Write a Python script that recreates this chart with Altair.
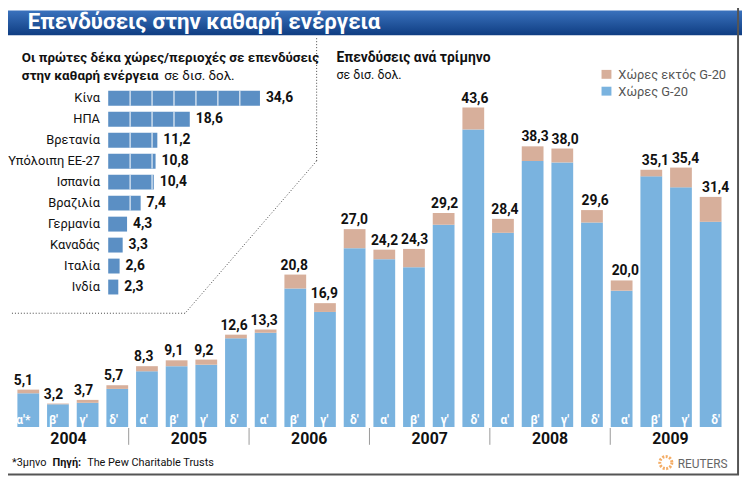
import altair as alt
import pandas as pd

# ---------------- data ----------------
quarters = ["α'*", "β'", "γ'", "δ'"] + ["α'", "β'", "γ'", "δ'"] * 5
totals = [5.1, 3.2, 3.7, 5.7, 8.3, 9.1, 9.2, 12.6, 13.3, 20.8, 16.9, 27.0,
          24.2, 24.3, 29.2, 43.6, 28.4, 38.3, 38.0, 29.6, 20.0, 35.1, 35.4, 31.4]
non_g20 = [0.5, 0.1, 0.4, 0.5, 0.7, 0.8, 0.7, 0.5, 0.45, 1.9, 1.2, 2.6,
           1.3, 2.5, 1.6, 3.0, 1.9, 2.0, 1.9, 1.7, 1.4, 0.9, 2.7, 3.4]
years = ["2004", "2005", "2006", "2007", "2008", "2009"]

countries = ["Κίνα", "ΗΠΑ", "Βρετανία", "Υπόλοιπη ΕΕ-27", "Ισπανία",
             "Βραζιλία", "Γερμανία", "Καναδάς", "Ιταλία", "Ινδία"]
country_vals = [34.6, 18.6, 11.2, 10.8, 10.4, 7.4, 4.3, 3.3, 2.6, 2.3]

# ---------------- style ----------------
FONT = "Roboto, Liberation Sans, sans-serif"
BLUE = "#7ab3df"
PINK = "#d7af9b"
CBLUE = "#5b8fc4"
W, H = 742, 472

def fmt(v):
    return f"{v:.1f}".replace(".", ",")

qdf = pd.DataFrame({
    "i": list(range(len(totals))),
    "q": quarters,
    "total": totals,
    "ng": non_g20,
})
qdf["g20"] = qdf["total"] - qdf["ng"]
qdf["zero"] = 0.0
qdf["lab"] = [fmt(v) for v in totals]

ydf = pd.DataFrame({"year": years, "c": [1.5 + 4 * k for k in range(len(years))]})
sdf = pd.DataFrame({"s": [3.5 + 4 * k for k in range(len(years) - 1)]})

cdf = pd.DataFrame({"country": countries, "v": country_vals,
                    "lab": [fmt(v) for v in country_vals]})
ticks = []
for c, v in zip(countries, country_vals):
    t = 5
    while t < v:
        ticks.append({"country": c, "t": t})
        t += 5
tdf = pd.DataFrame(ticks)

xs = alt.Scale(domain=[0, 23], range=[15.5, 715.3], nice=False, zero=False)
ys = alt.Scale(domain=[0, 43.6], range=[421, 98], nice=False, zero=False)
cxs = alt.Scale(domain=[0, 34.6], range=[101.3, 254.7], nice=False, zero=False)
cys = alt.Scale(domain=countries, range=[78.1, 290.1], paddingInner=0.29, paddingOuter=0.145)

one = pd.DataFrame({"k": [0]})

def txt(s, x, y, size=14, weight="normal", color="#111", align="left", baseline="alphabetic"):
    return alt.Chart(one).mark_text(text=s, font=FONT, fontSize=size, fontWeight=weight,
                                    color=color, align=align, baseline=baseline).encode(
        x=alt.value(x), y=alt.value(y))

# ---------------- background / frame ----------------
banner = alt.Chart(one).mark_rect(
    color=alt.Gradient(gradient="linear",
                       stops=[alt.GradientStop(color="#3a72bd", offset=0),
                              alt.GradientStop(color="#0f3d82", offset=1)],
                       x1=0, x2=0, y1=0, y2=1)
).encode(x=alt.value(0), x2=alt.value(W), y=alt.value(0), y2=alt.value(25))

frame = alt.Chart(one).mark_rect(filled=False, stroke="#555", strokeWidth=2).encode(
    x=alt.value(-4), x2=alt.value(738), y=alt.value(-4), y2=alt.value(469))

title = txt("Επενδύσεις στην καθαρή ενέργεια", 20, 19, size=22.5, weight="bold", color="white")

# dotted inset border
dot = dict(stroke="#444", strokeDash=[1, 2], strokeWidth=1)
d1 = alt.Chart(one).mark_rule(**dot).encode(x=alt.value(312), y=alt.value(28), y2=alt.value(152))
d2 = alt.Chart(one).mark_rule(**dot).encode(x=alt.value(312), y=alt.value(152), x2=alt.value(179), y2=alt.value(306))
d3 = alt.Chart(one).mark_rule(**dot).encode(x=alt.value(179), y=alt.value(306), x2=alt.value(4), y2=alt.value(306))

# ---------------- inset: top ten ----------------
it1 = txt("Οι πρώτες δέκα χώρες/περιοχές σε επενδύσεις", 14, 52, size=13.5, weight="bold")
it2 = txt("στην καθαρή ενέργεια", 14, 70, size=13.5, weight="bold")
it3 = txt("σε δισ. δολ.", 158, 70, size=13.5)

cbars = alt.Chart(cdf).mark_bar(color=CBLUE).encode(
    x=alt.X("v:Q", scale=cxs, axis=None),
    x2=alt.datum(0),
    y=alt.Y("country:N", scale=cys, axis=None, sort=countries),
)
cticks = alt.Chart(tdf).mark_tick(orient="vertical", color="white", thickness=1.5, size=15).encode(
    x=alt.X("t:Q", scale=cxs, axis=None),
    y=alt.Y("country:N", scale=cys, axis=None, sort=countries),
)
cvals = alt.Chart(cdf).mark_text(font=FONT, fontSize=14, fontWeight="bold", align="left",
                                 baseline="middle", dx=6, color="#111").encode(
    x=alt.X("v:Q", scale=cxs, axis=None),
    y=alt.Y("country:N", scale=cys, axis=None, sort=countries),
    text="lab:N",
)
cnames = alt.Chart(cdf).mark_text(font=FONT, fontSize=13, align="right",
                                  baseline="middle", color="#111").encode(
    x=alt.value(93),
    y=alt.Y("country:N", scale=cys, axis=None, sort=countries),
    text="country:N",
)

# ---------------- main chart ----------------
mt1 = txt("Επενδύσεις ανά τρίμηνο", 332, 52, size=14, weight="bold")
mt2 = txt("σε δισ. δολ.", 332, 69, size=12.5)

leg_p = alt.Chart(one).mark_rect(color=PINK).encode(
    x=alt.value(600), x2=alt.value(610), y=alt.value(60), y2=alt.value(69))
leg_b = alt.Chart(one).mark_rect(color=BLUE).encode(
    x=alt.value(600), x2=alt.value(610), y=alt.value(77), y2=alt.value(86))
leg_t1 = txt("Χώρες εκτός G-20", 617, 69, size=13, color="#555")
leg_t2 = txt("Χώρες G-20", 617, 86, size=13, color="#555")

bblue = alt.Chart(qdf).mark_bar(color=BLUE, width=22).encode(
    x=alt.X("i:Q", scale=xs, axis=None),
    y=alt.Y("g20:Q", scale=ys, axis=None),
    y2="zero:Q",
)
bpink = alt.Chart(qdf).mark_bar(color=PINK, width=22).encode(
    x=alt.X("i:Q", scale=xs, axis=None),
    y=alt.Y("total:Q", scale=ys, axis=None),
    y2="g20:Q",
)
bvals = alt.Chart(qdf).mark_text(font=FONT, fontSize=14, fontWeight="bold",
                                 baseline="alphabetic", dy=-5, color="#111").encode(
    x=alt.X("i:Q", scale=xs, axis=None),
    y=alt.Y("total:Q", scale=ys, axis=None),
    text="lab:N",
)
qlabs = alt.Chart(qdf).mark_text(font=FONT, fontSize=12, fontWeight="bold",
                                 baseline="middle", dy=-7, color="white").encode(
    x=alt.X("i:Q", scale=xs, axis=None),
    y=alt.Y("zero:Q", scale=ys, axis=None),
    text="q:N",
)
ylabs = alt.Chart(ydf).mark_text(font=FONT, fontSize=16, fontWeight="bold",
                                 baseline="alphabetic", color="#111").encode(
    x=alt.X("c:Q", scale=xs, axis=None),
    y=alt.value(438),
    text="year:N",
)
seps = alt.Chart(sdf).mark_rule(color="#999", strokeWidth=1).encode(
    x=alt.X("s:Q", scale=xs, axis=None),
    y=alt.value(422), y2=alt.value(439),
)

# ---------------- footer ----------------
f1 = txt("*3μηνο", 4, 460, size=11)
f2 = txt("Πηγή:", 45, 460, size=11, weight="bold")
f3 = txt("The Pew Charitable Trusts", 80, 460, size=11)
logo = alt.Chart(one).mark_point(shape="circle", filled=False, stroke="#f08a24",
                                 strokeWidth=3, strokeDash=[2, 1.5], size=150).encode(
    x=alt.value(665), y=alt.value(457))
reuters = txt("REUTERS", 677, 462, size=12, color="#666")

chart = alt.layer(
    banner, frame, title, d1, d2, d3,
    it1, it2, it3, cbars, cticks, cvals, cnames,
    mt1, mt2, leg_p, leg_b, leg_t1, leg_t2,
    bblue, bpink, bvals, qlabs, ylabs, seps,
    f1, f2, f3, logo, reuters,
).resolve_scale(x="independent", y="independent").properties(
    width=W, height=H, autosize=alt.AutoSizeParams(type="none"), padding=0,
).configure_view(stroke=None)

chart.save("out.html", embed_options={"renderer": "svg", "actions": False})
